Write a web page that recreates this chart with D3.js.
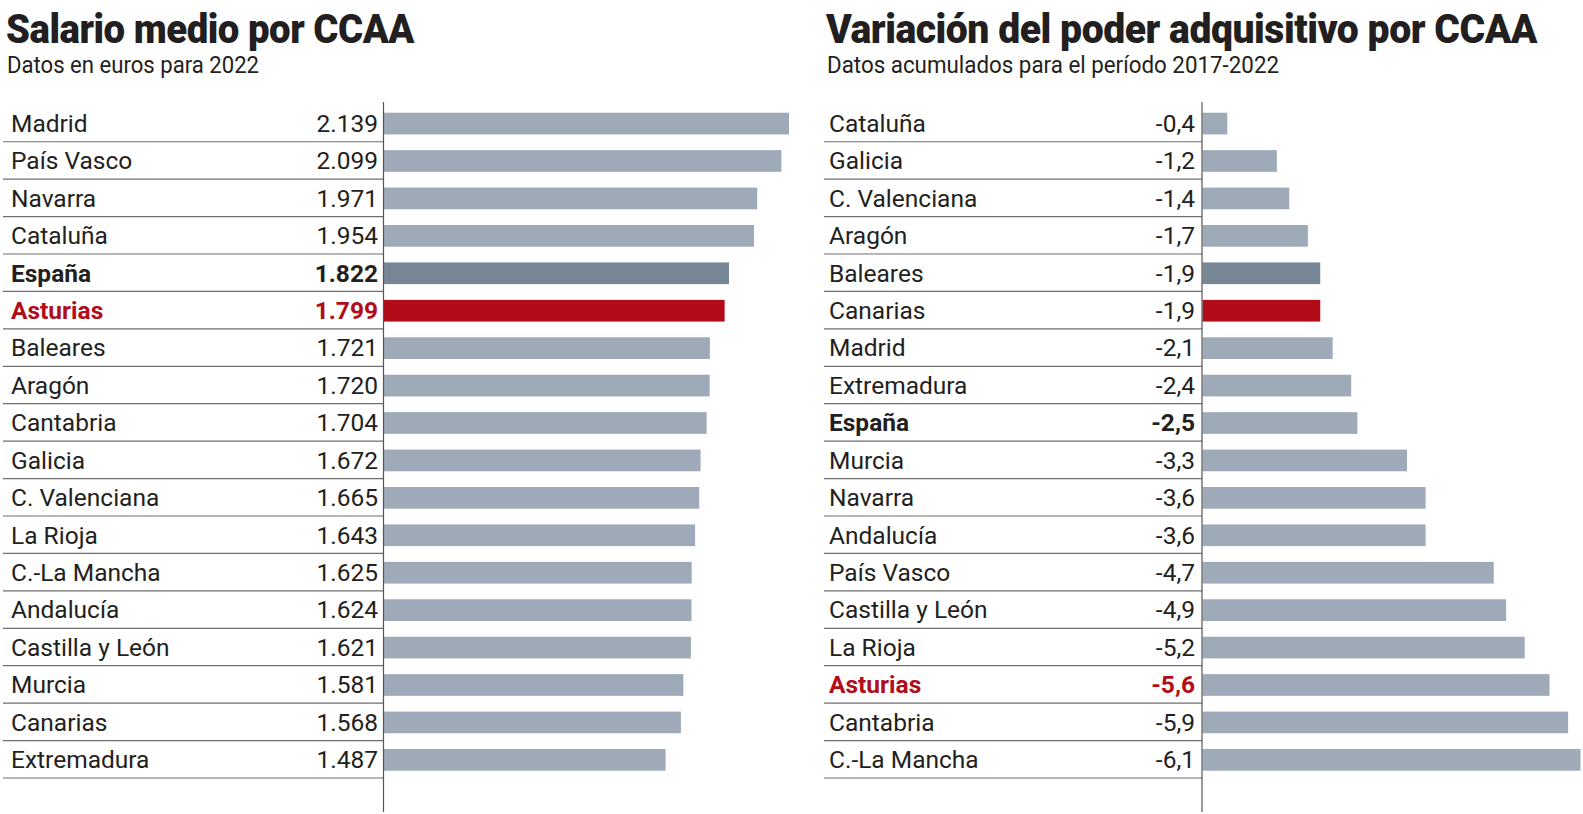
<!DOCTYPE html>
<html>
<head>
<meta charset="utf-8">
<script src="https://cdn.jsdelivr.net/npm/d3@7"></script>
<style>
  html, body { margin: 0; padding: 0; background: #fff; }
  svg { display: block; }
  text { font-family: Roboto, "Liberation Sans", sans-serif; fill: #231f20; }
</style>
</head>
<body>
<svg id="chart" width="1583" height="814"></svg>
<script>
// ---- Data ----
const leftTitle = "Salario medio por CCAA";
const leftSubtitle = "Datos en euros para 2022";
const leftCategories = ["Madrid", "País Vasco", "Navarra", "Cataluña", "España", "Asturias", "Baleares", "Aragón", "Cantabria", "Galicia", "C. Valenciana", "La Rioja", "C.-La Mancha", "Andalucía", "Castilla y León", "Murcia", "Canarias", "Extremadura"];
const leftValues = [2139, 2099, 1971, 1954, 1822, 1799, 1721, 1720, 1704, 1672, 1665, 1643, 1625, 1624, 1621, 1581, 1568, 1487];
const leftLabelBold = ["España"];
const leftLabelRed = ["Asturias"];
const leftBarDark = ["España"];
const leftBarRed = ["Asturias"];

const rightTitle = "Variación del poder adquisitivo por CCAA";
const rightSubtitle = "Datos acumulados para el período 2017-2022";
const rightCategories = ["Cataluña", "Galicia", "C. Valenciana", "Aragón", "Baleares", "Canarias", "Madrid", "Extremadura", "España", "Murcia", "Navarra", "Andalucía", "País Vasco", "Castilla y León", "La Rioja", "Asturias", "Cantabria", "C.-La Mancha"];
const rightValues = [-0.4, -1.2, -1.4, -1.7, -1.9, -1.9, -2.1, -2.4, -2.5, -3.3, -3.6, -3.6, -4.7, -4.9, -5.2, -5.6, -5.9, -6.1];
const rightLabelBold = ["España"];
const rightLabelRed = ["Asturias"];
const rightBarDark = ["Baleares"];
const rightBarRed = ["Canarias"];

// ---- Styles ----
const C_BAR = "#9eaab8";
const C_DARK = "#778797";
const C_RED = "#b10c18";
const C_TEXT = "#231f20";
const C_LINE = "#6f6f6f";

const svg = d3.select("#chart");

const fmtLeft = v => d3.format(",")(v).replace(/,/g, ".");
const fmtRight = v => d3.format(".1f")(v).replace(".", ",").replace("−", "-");

function panel(opts) {
  const g = svg.append("g");
  const y = d3.scaleBand().domain(opts.categories).range([104.3, 778]).padding(0);
  const bw = y.bandwidth();
  const x = d3.scaleLinear().domain(opts.domain).range([0, opts.barMax]);

  // title
  g.append("text")
    .attr("x", opts.titleX).attr("y", 43)
    .attr("textLength", opts.titleW).attr("lengthAdjust", "spacingAndGlyphs")
    .style("font-size", "40px").style("font-weight", 900)
    .style("letter-spacing", "-0.5px")
    .text(opts.title);
  g.append("text")
    .attr("x", opts.titleX + 1).attr("y", 73)
    .attr("textLength", opts.subW).attr("lengthAdjust", "spacingAndGlyphs")
    .style("font-size", "23px")
    .text(opts.subtitle);

  const data = opts.categories.map((c, i) => ({ c, v: opts.values[i] }));

  // separator lines
  g.selectAll("line.sep").data(data).join("line")
    .attr("class", "sep")
    .attr("x1", opts.lineX1).attr("x2", opts.axisX)
    .attr("y1", d => y(d.c) + bw).attr("y2", d => y(d.c) + bw)
    .attr("stroke", C_LINE).attr("stroke-width", 1.2);

  // bars
  g.selectAll("rect.bar").data(data).join("rect")
    .attr("class", "bar")
    .attr("x", opts.axisX + 0.5)
    .attr("y", d => y(d.c) + bw * 0.225)
    .attr("height", bw * 0.58)
    .attr("width", d => x(d.v))
    .attr("fill", d => opts.barRed.includes(d.c) ? C_RED : (opts.barDark.includes(d.c) ? C_DARK : C_BAR));

  // axis line
  g.append("line")
    .attr("x1", opts.axisX).attr("x2", opts.axisX)
    .attr("y1", 102).attr("y2", 812)
    .attr("stroke", "#555").attr("stroke-width", 1.2);

  const color = d => opts.labelRed.includes(d.c) ? C_RED : C_TEXT;
  const weight = d => (opts.labelRed.includes(d.c) || opts.labelBold.includes(d.c)) ? 700 : 400;

  // names
  g.selectAll("text.name").data(data).join("text")
    .attr("class", "name")
    .attr("x", opts.nameX)
    .attr("y", d => y(d.c) + bw / 2)
    .attr("dy", "0.36em")
    .style("font-size", "24.5px")
    .style("font-weight", weight)
    .style("fill", color)
    .text(d => d.c);

  // values
  g.selectAll("text.val").data(data).join("text")
    .attr("class", "val")
    .attr("x", opts.valX)
    .attr("y", d => y(d.c) + bw / 2)
    .attr("dy", "0.36em")
    .attr("text-anchor", "end")
    .style("font-size", "24.5px")
    .style("font-weight", weight)
    .style("fill", color)
    .text(d => opts.fmt(d.v));
}

panel({
  title: leftTitle, subtitle: leftSubtitle,
  categories: leftCategories, values: leftValues,
  labelBold: leftLabelBold, labelRed: leftLabelRed,
  barDark: leftBarDark, barRed: leftBarRed,
  domain: [0, d3.max(leftValues)], barMax: 405,
  titleX: 6, titleW: 408, subW: 252,
  lineX1: 3, axisX: 383.5, nameX: 11, valX: 378,
  fmt: fmtLeft
});

panel({
  title: rightTitle, subtitle: rightSubtitle,
  categories: rightCategories, values: rightValues,
  labelBold: rightLabelBold, labelRed: rightLabelRed,
  barDark: rightBarDark, barRed: rightBarRed,
  domain: [0, d3.min(rightValues)], barMax: 378,
  titleX: 826, titleW: 711, subW: 452,
  lineX1: 824, axisX: 1202, nameX: 829, valX: 1195,
  fmt: fmtRight
});
</script>
</body>
</html>
